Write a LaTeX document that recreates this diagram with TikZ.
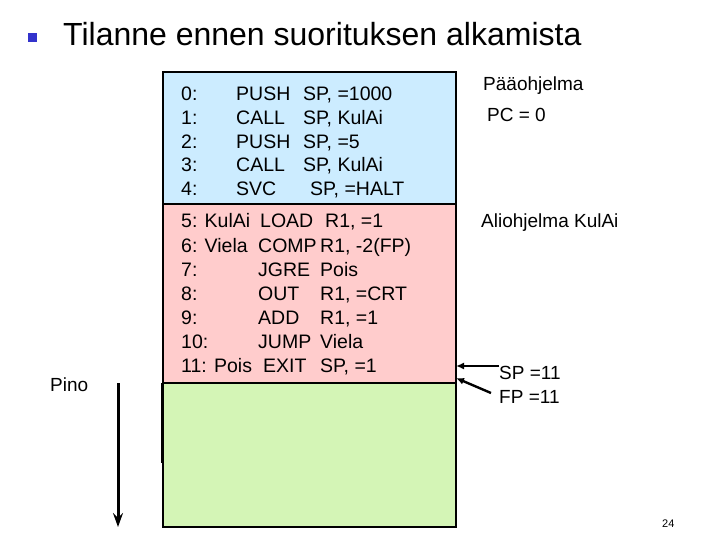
\documentclass[tikz,border=0pt]{standalone}
\usepackage{fontspec}
\setmainfont{Liberation Sans}
\usetikzlibrary{arrows.meta,positioning}

\definecolor{progblue}{RGB}{204,236,255}
\definecolor{subpink}{RGB}{255,204,204}
\definecolor{stackgreen}{RGB}{212,245,182}
\definecolor{bulletblue}{RGB}{51,51,204}

\newcommand{\bluerow}[3]{\makebox[55pt][l]{#1}\makebox[67pt][l]{#2}#3}
\newcommand{\pinkrow}[3]{\makebox[77pt][l]{#1}\makebox[62pt][l]{#2}#3}

\begin{document}
\begin{tikzpicture}[x=1pt,y=-1pt,
    code/.style={anchor=base west, inner sep=0pt, font=\fontsize{19.5}{19.5}\selectfont},
    label/.style={anchor=base west, inner sep=0pt, font=\fontsize{19}{19}\selectfont},
    area/.style={draw=black, line width=1.6pt},
    pointer/.style={-{Latex[length=8pt,width=7pt]}, line width=2.4pt},
    stackarrow/.style={-{Stealth[length=14pt,width=10pt,inset=5pt]}, line width=3pt}]
    \useasboundingbox (0,0) rectangle (720,540);

    % title
    \fill[bulletblue] (28,33) rectangle (37,42);
    \node[anchor=base west, inner sep=0pt, font=\fontsize{32}{32}\selectfont] (title) at (63,46) {Tilanne ennen suorituksen alkamista};

    % memory areas
    \draw[area, fill=progblue] (163,72) rectangle (456,204);
    \draw[area, fill=subpink] (163,204) rectangle (456,383);
    \draw[area, fill=stackgreen] (163,383) rectangle (456,527);
    \draw[line width=3pt] (162,383) -- (162,463);

    % main program
    \node[code] (l0) at (181,101) {\bluerow{0:}{PUSH}{SP, =1000}};
    \node[code] (l1) at (181,125) {\bluerow{1:}{CALL}{SP, KulAi}};
    \node[code] (l2) at (181,149) {\bluerow{2:}{PUSH}{SP, =5}};
    \node[code] (l3) at (181,172) {\bluerow{3:}{CALL}{SP, KulAi}};
    \node[code] (l4) at (181,196) {\bluerow{4:}{SVC}{\hspace{7pt}SP, =HALT}};

    % subroutine
    \node[code] (l5) at (181,228) {\pinkrow{5: KulAi}{\hspace{2pt}LOAD}{\hspace{5pt}R1, =1}};
    \node[code] (l6) at (181,252) {\pinkrow{6: Viela}{COMP}{R1, -2(FP)}};
    \node[code] (l7) at (181,276) {\pinkrow{7:}{JGRE}{Pois}};
    \node[code] (l8) at (181,300) {\pinkrow{8:}{OUT}{R1, =CRT}};
    \node[code] (l9) at (181,324) {\pinkrow{9:}{ADD}{R1, =1}};
    \node[code] (l10) at (181,348) {\pinkrow{10:}{JUMP}{Viela}};
    \node[code] (l11) at (181,372) {\pinkrow{11: Pois}{\hspace{5pt}EXIT}{SP, =1}};

    % labels on the right
    \node[label] (main) at (483,91) {Pääohjelma};
    \node[label] (pc) at (487,122) {PC = 0};
    \node[label] (sub) at (481,228) {Aliohjelma KulAi};
    \node[label] (sp) at (499,379) {SP =11};
    \node[label] (fp) at (499,403) {FP =11};

    \coordinate (sptip) at (456,366);
    \coordinate (fptip) at (456,378);
    \draw[pointer] (sp.west |- 0,366) -- (sptip);
    \draw[pointer] (fp.west |- 0,393) ++(-8,0) -- (fptip);

    % stack direction
    \node[label] (pino) at (50,391) {Pino};
    \coordinate (pinotop) at (118,383);
    \coordinate (pinobot) at (118,527);
    \draw[stackarrow] (pinotop) -- (pinobot);

    \node[anchor=base west, inner sep=0pt, font=\fontsize{11}{11}\selectfont] (page) at (662,527) {24};
\end{tikzpicture}
\end{document}
